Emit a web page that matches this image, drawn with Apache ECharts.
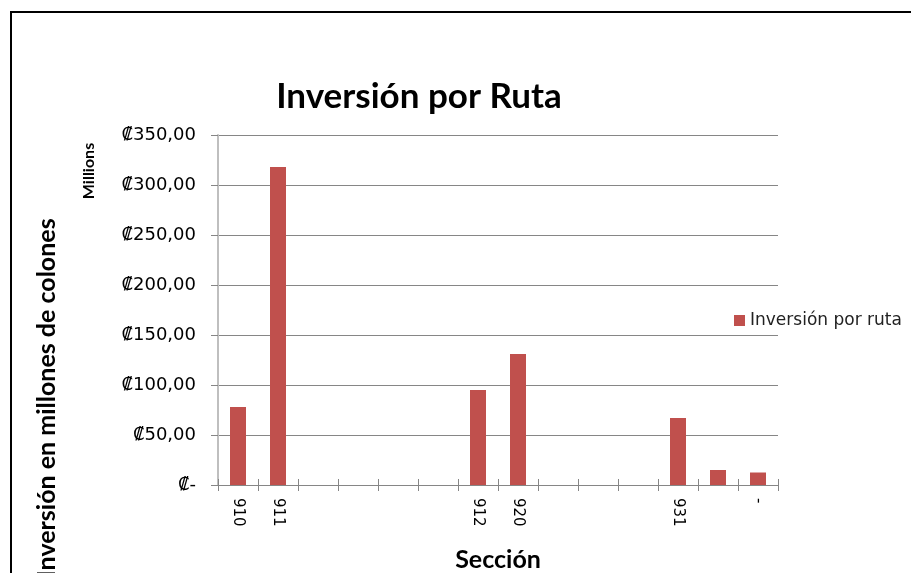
<!DOCTYPE html>
<html>
<head>
<meta charset="utf-8">
<script src="https://cdn.jsdelivr.net/npm/echarts@6/dist/echarts.min.js"></script>
<style>
  html, body { margin: 0; padding: 0; background: #fff; }
  #chart { width: 911px; height: 573px; }
</style>
</head>
<body>
<div id="chart"></div>
<script>
// categorías del eje x (secciones), varias vacías como en el original
var secciones = ['910', '911', '', '', '', '', '912', '920', '', '', '', '931', '', '-'];
// inversión por ruta, en millones de colones
var inversion = [78, 318, null, null, null, null, 95, 131, null, null, null, 67, 15, 12.5];
var ejeY = { min: 0, max: 350, interval: 50 };

var fuente = 'Lato, "Open Sans", sans-serif';
var fuenteEtiq = '"DejaVu Sans", Verdana, sans-serif';

function formatoColones (v) {
  if (v === 0) return '₡-';
  return '₡' + v.toFixed(2).replace('.', ',');
}

var chart = echarts.init(document.getElementById('chart'));
var option = {
  backgroundColor: '#fff',
  animation: false,
  title: {
    text: 'Inversión por Ruta',
    left: 414,
    top: 74,
    textAlign: 'center',
    textStyle: { fontFamily: fuente, fontWeight: 'bold', fontSize: 35, color: '#000' }
  },
  legend: {
    data: ['Inversión por ruta'],
    left: 729,
    top: 307,
    itemWidth: 11,
    itemHeight: 11,
    itemGap: 5,
    icon: 'rect',
    textStyle: { fontFamily: fuenteEtiq, fontSize: 17, color: '#222' }
  },
  grid: { left: 218, right: 133, top: 135, bottom: 88, containLabel: false, outerBoundsMode: 'none' },
  xAxis: [{
    type: 'category',
    data: secciones,
    name: 'Sección',
    nameLocation: 'middle',
    nameGap: 62,
    nameTextStyle: { fontFamily: fuente, fontWeight: 'bold', fontSize: 25, color: '#000' },
    axisLine: { lineStyle: { color: '#868686', width: 1 } },
    axisTick: { show: true, length: 6, interval: 0, lineStyle: { color: '#868686' } },
    axisLabel: {
      interval: 0,
      rotate: -90,
      margin: 13,
      fontFamily: fuenteEtiq,
      fontSize: 15,
      color: '#000'
    }
  }, {
    // marcas hacia adentro para que crucen la línea del eje
    type: 'category',
    data: secciones,
    position: 'bottom',
    axisLine: { show: false },
    axisTick: { show: true, inside: true, length: 6, interval: 0, lineStyle: { color: '#868686' } },
    axisLabel: { show: false }
  }],
  yAxis: {
    type: 'value',
    min: ejeY.min,
    max: ejeY.max,
    interval: ejeY.interval,
    axisLine: { show: true, lineStyle: { color: '#bfbfbf', width: 2 } },
    axisTick: { show: true, length: 7, lineStyle: { color: '#868686' } },
    splitLine: { lineStyle: { color: '#868686', width: 1 } },
    axisLabel: {
      margin: 22,
      formatter: formatoColones,
      fontFamily: fuenteEtiq,
      fontSize: 18,
      color: '#000'
    }
  },
  series: [{
    name: 'Inversión por ruta',
    type: 'bar',
    xAxisIndex: 0,
    data: inversion,
    barWidth: '40%',
    itemStyle: { color: '#C0504D' }
  }],
  graphic: [
    {
      type: 'rect',
      shape: { x: 11, y: 12, width: 1200, height: 1000 },
      style: { fill: 'none', stroke: '#000', lineWidth: 2 },
      silent: true
    },
    {
      type: 'text',
      x: 47,
      y: 398,
      rotation: Math.PI / 2,
      style: {
        text: 'Inversión en millones de colones',
        fontFamily: fuente,
        fontWeight: 'bold',
        fontSize: 25,
        fill: '#000',
        align: 'center',
        verticalAlign: 'middle'
      }
    },
    {
      type: 'text',
      x: 89,
      y: 171,
      rotation: Math.PI / 2,
      style: {
        text: 'Millions',
        fontFamily: fuente,
        fontWeight: 'bold',
        fontSize: 16,
        fill: '#000',
        align: 'center',
        verticalAlign: 'middle'
      }
    }
  ]
};
chart.setOption(option);
</script>
</body>
</html>
